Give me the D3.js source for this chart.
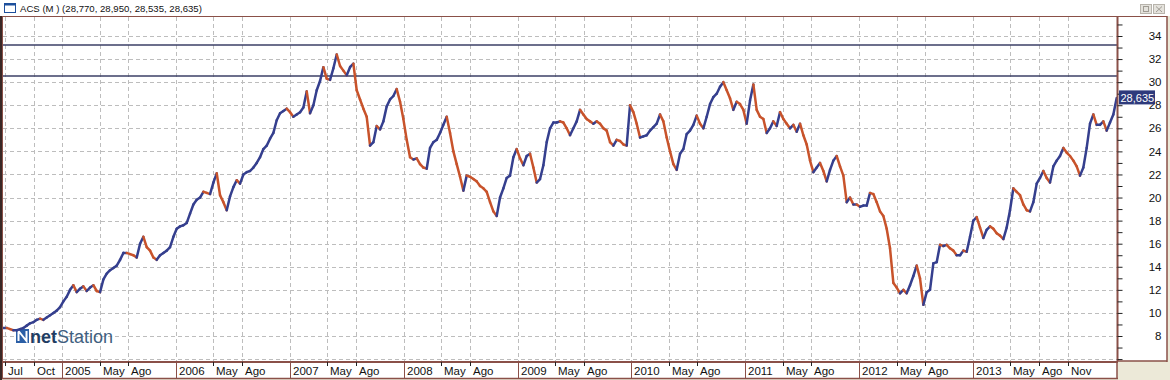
<!DOCTYPE html>
<html>
<head>
<meta charset="utf-8">
<script src="https://cdnjs.cloudflare.com/ajax/libs/d3/7.8.5/d3.min.js"></script>
<style>
    body { margin: 0; background: #ece9d8; overflow: hidden; }
    svg { display: block; }
</style>
</head>
<body>
<svg id="chart" width="1170" height="380"></svg>
<script>
// ACS closing prices, evenly spaced in time
var closes = [
    8.7, 8.7, 8.6, 8.5, 8.5, 8.6, 8.7, 8.9, 9.1, 9.2,
    9.4, 9.5, 9.4, 9.6, 9.8, 10.0, 10.2, 10.5, 11.0, 11.4,
    12.0, 12.4, 11.8, 12.1, 12.3, 11.9, 12.2, 12.4, 11.9, 11.8,
    12.9, 13.4, 13.7, 13.9, 14.1, 14.6, 15.2, 15.2, 15.1, 15.0,
    14.8, 16.0, 16.6, 15.7, 15.4, 14.8, 14.6, 15.0, 15.2, 15.4,
    15.7, 16.6, 17.3, 17.5, 17.6, 17.8, 18.6, 19.4, 19.8, 20.0,
    20.5, 20.4, 20.3, 21.3, 22.1, 20.2, 19.6, 18.9, 20.1, 20.9,
    21.5, 21.2, 22.0, 22.2, 22.3, 22.6, 23.0, 23.5, 24.2, 24.5,
    25.1, 25.6, 26.7,
    27.3, 27.5, 27.7, 27.4, 27.0, 27.2, 27.4, 27.8, 29.2, 27.3,
    28.0, 29.3, 30.1, 31.3, 30.3, 30.2, 31.2, 32.4, 31.4, 31.0,
    30.6, 31.3, 31.6, 29.3, 28.5, 27.7, 27.0, 24.5, 24.8, 26.2,
    25.9, 26.6, 27.9, 28.5, 28.8, 29.4, 28.3, 26.8, 25.0, 23.5,
    23.3, 23.4, 22.9, 22.6, 22.5, 24.3, 24.8, 25.0, 25.6, 26.3,
    27.0, 25.6, 24.0, 22.9, 21.8, 20.6, 21.9, 21.8, 21.6, 21.4,
    21.0, 20.8, 20.5, 19.6, 18.8, 18.4, 20.0, 20.8, 21.7, 21.9,
    23.5, 24.2, 23.4, 22.8, 23.6, 23.8, 22.6, 21.3, 21.6, 22.8,
    24.8, 26.0, 26.5, 26.5,
    26.6, 26.5, 26.0, 25.4, 26.0, 26.6, 27.6, 27.2, 26.8, 26.6,
    26.4, 26.6, 26.4, 26.0, 25.8, 24.8, 24.5, 25.0, 24.9, 24.6,
    24.5, 28.0, 27.4, 26.4, 25.2, 25.3, 25.4, 25.8, 26.1, 26.4,
    27.2, 26.6, 25.2, 24.0, 22.9, 22.4, 23.8, 24.2, 25.5, 25.8,
    26.3, 27.1, 26.4, 26.0, 27.0, 28.1, 28.7, 29.0, 29.6, 30.0,
    29.3, 28.6, 27.6, 28.3, 28.1, 27.6, 26.4, 28.4, 29.8, 27.6,
    27.0, 26.8, 25.6, 26.0, 26.6, 26.2, 27.4, 26.8, 26.4, 26.0,
    26.3, 25.7, 26.4, 25.4, 24.6, 23.2, 22.2, 22.6, 23.0, 22.3,
    21.4, 22.4, 23.2, 23.6,
    22.7, 21.9, 19.6, 20.0, 19.4, 19.4, 19.2, 19.3, 19.3, 20.4,
    20.3, 19.6, 18.8, 18.4, 17.3, 15.6, 12.6, 12.2, 11.7, 12.0,
    11.7, 12.4, 13.2, 14.1, 13.0, 10.7, 11.8, 12.0, 14.3, 14.4,
    15.9, 15.8, 15.9, 15.6, 15.4, 15.0, 15.0, 15.4, 15.3, 16.6,
    18.0, 18.3, 17.4, 16.5, 17.2, 17.5, 17.3, 16.9, 16.7, 16.4,
    17.4, 18.9, 20.8, 20.5, 20.2, 19.4, 18.9, 18.8, 19.6, 21.2,
    21.7, 22.3, 21.7, 21.3, 22.7, 23.2, 23.6, 24.3, 23.9, 23.6,
    23.2, 22.7, 21.9, 22.6, 24.3, 26.4, 27.2, 26.3, 26.3, 26.6,
    25.8, 26.5, 27.2, 28.635
];
var seriesStart = "2004-06-26";
var seriesEnd = "2014-04-07";

var tickDates = ["2004-07-01", "2004-10-01",
    "2005-01-01", "2005-05-01", "2005-08-01",
    "2006-01-01", "2006-05-01", "2006-08-01",
    "2007-01-01", "2007-05-01", "2007-08-01",
    "2008-01-01", "2008-05-01", "2008-08-01",
    "2009-01-01", "2009-05-01", "2009-08-01",
    "2010-01-01", "2010-05-01", "2010-08-01",
    "2011-01-01", "2011-05-01", "2011-08-01",
    "2012-01-01", "2012-05-01", "2012-08-01",
    "2013-01-01", "2013-05-01", "2013-08-01", "2013-11-01"];
var tickLabels = ["Jul", "Oct",
    "2005", "May", "Ago", "2006", "May", "Ago", "2007", "May", "Ago",
    "2008", "May", "Ago", "2009", "May", "Ago", "2010", "May", "Ago",
    "2011", "May", "Ago", "2012", "May", "Ago", "2013", "May", "Ago", "Nov"];

var yLabels = [8, 10, 12, 14, 16, 18, 20, 22, 24, 26, 28, 30, 32, 34];
var yMinor = [6, 7, 9, 11, 13, 15, 17, 19, 21, 23, 25, 27, 29, 31, 33, 35];
var levels = [33.22, 30.53];
var lastPrice = 28.635;
var lastLabel = "28,635";
var title = "ACS (M ) (28,770, 28,950, 28,535, 28,635)";

var upColor = "#353f8e", downColor = "#c8532b", frame = "#8a5048";

function draw() {
    var svg = d3.select("#chart");
    var plotL = 3, plotR = 1117, plotT = 17, plotB = 361;
    var parse = d3.timeParse("%Y-%m-%d");

    var x = d3.scaleTime()
        .domain([parse("2005-01-01"), parse("2013-01-01")])
        .range([62.3, 973]);
    var y = d3.scaleLinear().domain([8, 34]).range([336, 36]);
    var idx = d3.scaleLinear()
        .domain([0, closes.length - 1])
        .range([+parse(seriesStart), +parse(seriesEnd)]);

    // backgrounds
    svg.append("rect").attr("width", 1170).attr("height", 380).attr("fill", "#ece9d8");
    svg.append("rect").attr("width", 1170).attr("height", 16).attr("fill", "#ffffff");
    svg.append("rect").attr("x", plotL).attr("y", plotT).attr("width", plotR - plotL).attr("height", plotB - plotT).attr("fill", "#fff");
    svg.append("rect").attr("x", plotR).attr("y", plotT).attr("width", 1167 - plotR).attr("height", plotB - plotT).attr("fill", "#fff");
    svg.append("rect").attr("x", plotL).attr("y", plotB).attr("width", plotR - plotL).attr("height", 378 - plotB).attr("fill", "#fff");

    // title bar
    svg.append("rect").attr("x", 4.5).attr("y", 3.5).attr("width", 11).attr("height", 9)
        .attr("fill", "#fff").attr("stroke", "#1d4f9c");
    svg.append("rect").attr("x", 4).attr("y", 3).attr("width", 12).attr("height", 2.5).attr("fill", "#1d4f9c");
    svg.append("text").attr("x", 20).attr("y", 12)
        .attr("font-family", "Liberation Sans, Arial, sans-serif").attr("font-size", "9.6px")
        .attr("fill", "#111").text(title);
    [1140, 1153].forEach(function (bx, i) {
        svg.append("rect").attr("x", bx + 0.5).attr("y", 4.5).attr("width", 11).attr("height", 9)
            .attr("fill", "#e4e2dc").attr("stroke", "#b8b4ac");
        if (i == 0) {
            svg.append("rect").attr("x", bx + 3.5).attr("y", 6.5).attr("width", 5).attr("height", 5)
                .attr("fill", "none").attr("stroke", "#a09c94");
        } else {
            svg.append("path").attr("d", "M" + (bx + 3) + ",6.5L" + (bx + 9) + ",12M" + (bx + 9) + ",6.5L" + (bx + 3) + ",12")
                .attr("stroke", "#a09c94");
        }
    });

    // grid
    var grid = svg.append("g").attr("stroke", "#bdbdbd").attr("stroke-dasharray", "4,3").attr("stroke-width", 1);
    grid.selectAll("line.h").data([6].concat(yLabels)).enter().append("line")
        .attr("x1", plotL).attr("x2", plotR)
        .attr("y1", function (d) { return Math.round(y(d)) + 0.5; })
        .attr("y2", function (d) { return Math.round(y(d)) + 0.5; });
    grid.selectAll("line.v").data(tickDates).enter().append("line")
        .attr("y1", plotT).attr("y2", plotB)
        .attr("x1", function (d) { return Math.round(x(parse(d))) + 0.5; })
        .attr("x2", function (d) { return Math.round(x(parse(d))) + 0.5; });

    // level lines
    svg.selectAll("line.level").data(levels).enter().append("line")
        .attr("x1", plotL).attr("x2", plotR)
        .attr("y1", function (d) { return y(d); })
        .attr("y2", function (d) { return y(d); })
        .attr("stroke", "#3b3f66").attr("stroke-width", 1.4);

    // logo
    var logo = svg.append("g");
    logo.append("rect").attr("x", 16).attr("y", 329).attr("width", 13).attr("height", 14).attr("fill", "#2b5fa6");
    logo.append("path").attr("d", "M18.5,341L18.5,331L26.5,341L26.5,331")
        .attr("fill", "none").attr("stroke", "#fff").attr("stroke-width", 2);
    var lt = logo.append("text").attr("x", 30).attr("y", 343)
        .attr("font-family", "Liberation Sans, Arial, sans-serif").attr("font-size", "18px");
    lt.append("tspan").attr("font-weight", "bold").attr("fill", "#1f3d63").text("net");
    lt.append("tspan").attr("fill", "#3f6080").text("Station");

    // price series
    svg.append("clipPath").attr("id", "clip").append("rect")
        .attr("x", plotL).attr("y", plotT).attr("width", plotR - plotL).attr("height", plotB - plotT);
    var series = svg.append("g").attr("clip-path", "url(#clip)");
    var segs = d3.range(1, closes.length);
    series.selectAll("line.seg").data(segs).enter().append("line")
        .attr("x1", function (i) { return x(new Date(idx(i - 1))); })
        .attr("x2", function (i) { return x(new Date(idx(i))); })
        .attr("y1", function (i) { return y(closes[i - 1]); })
        .attr("y2", function (i) { return y(closes[i]); })
        .attr("stroke", function (i) { return closes[i] >= closes[i - 1] ? upColor : downColor; })
        .attr("stroke-width", 2.5)
        .attr("stroke-linecap", "round");

    // frame
    svg.append("rect").attr("x", 0).attr("y", 16).attr("width", 2).attr("height", 364).attr("fill", "#3a2826");
    svg.append("line").attr("x1", 2).attr("x2", 1167).attr("y1", 16.5).attr("y2", 16.5).attr("stroke", frame);
    svg.append("line").attr("x1", 2.5).attr("x2", 2.5).attr("y1", 16).attr("y2", 379).attr("stroke", frame);
    svg.append("line").attr("x1", 1167).attr("x2", 1167).attr("y1", 16).attr("y2", 362).attr("stroke", frame).attr("stroke-width", 1.5);
    svg.append("line").attr("x1", 1117).attr("x2", 1167).attr("y1", 361).attr("y2", 361).attr("stroke", frame).attr("stroke-width", 1.5);
    svg.append("line").attr("x1", 2).attr("x2", 1118).attr("y1", 362).attr("y2", 362).attr("stroke", frame).attr("stroke-width", 2);
    svg.append("line").attr("x1", 2).attr("x2", 1118).attr("y1", 378.5).attr("y2", 378.5).attr("stroke", frame).attr("stroke-width", 1.5);
    svg.append("line").attr("x1", 1117).attr("x2", 1117).attr("y1", 362).attr("y2", 379).attr("stroke", frame).attr("stroke-width", 1.5);

    // y axis
    var yAxis = svg.append("g").attr("transform", "translate(1117.5,0)")
        .call(d3.axisRight(y).tickValues(yLabels.concat(yMinor)).tickSize(5).tickPadding(0)
            .tickFormat(function (d) { return yLabels.indexOf(d) >= 0 ? d : ""; }));
    yAxis.select(".domain").attr("stroke", frame).attr("stroke-width", 2).attr("d", "M0," + plotT + "V" + plotB);
    yAxis.selectAll(".tick line").attr("stroke", "#222");
    yAxis.selectAll(".tick text").attr("x", 44).attr("text-anchor", "end")
        .attr("font-family", "Liberation Sans, Arial, sans-serif").attr("font-size", "11.5px").attr("fill", "#111");

    // last price label
    svg.append("rect").attr("x", 1119).attr("y", y(lastPrice) - 7.5).attr("width", 36).attr("height", 14).attr("fill", "#2e3a7c");
    svg.append("text").attr("x", 1120.5).attr("y", y(lastPrice) + 4)
        .attr("font-family", "Liberation Sans, Arial, sans-serif").attr("font-size", "11px")
        .attr("fill", "#fff").text(lastLabel);

    // x axis strip
    var xa = svg.append("g");
    tickDates.forEach(function (d, i) {
        var px = Math.round(x(parse(d))) + 0.5;
        var isYear = /^\d{4}$/.test(tickLabels[i]);
        xa.append("line").attr("x1", px).attr("x2", px)
            .attr("y1", 362).attr("y2", isYear ? 378 : 366)
            .attr("stroke", isYear ? frame : "#222").attr("stroke-width", 1);
        xa.append("text").attr("x", px + 2.5).attr("y", 375)
            .attr("font-family", "Liberation Sans, Arial, sans-serif").attr("font-size", "11.5px")
            .attr("fill", "#111").text(tickLabels[i]);
    });
}

draw();
</script>
</body>
</html>
